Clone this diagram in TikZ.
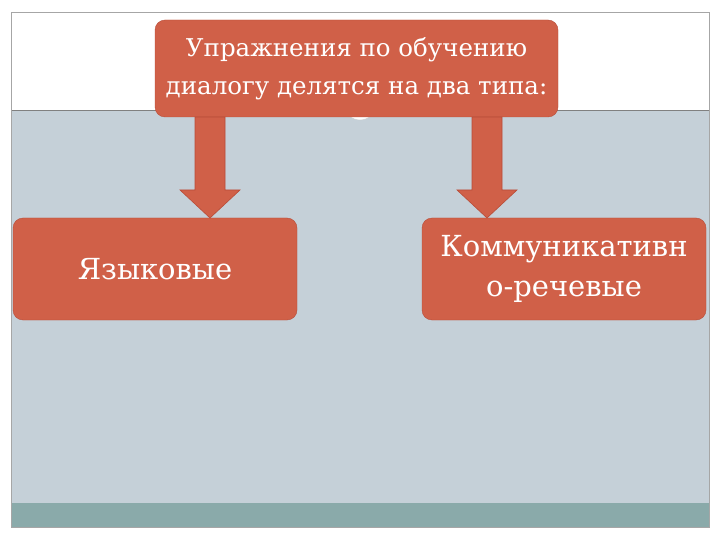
\documentclass[tikz,border=0pt]{standalone}
\usepackage{fontspec}
\setmainfont{DejaVu Serif}
\definecolor{boxc}{HTML}{D06048}
\definecolor{boxd}{HTML}{B84C38}
\definecolor{bgc}{HTML}{C5D0D8}
\definecolor{teal}{HTML}{8AAAAA}
\begin{document}
\begin{tikzpicture}[x=1pt,y=-1pt,
  box/.style={draw=boxd,fill=boxc,rounded corners=10pt,text=white,align=center,inner sep=0pt},
  arr/.style={draw=boxd,fill=boxc,line width=0.6pt}]
\useasboundingbox (0,0) rectangle (720,540);
\fill[white] (0,0) rectangle (720,540);
\fill[bgc] (11,110) rectangle (709,503);
\fill[teal] (11,503) rectangle (709,527);
\draw[gray,line width=0.6pt] (11,110) -- (709,110);
\draw[gray!70,line width=0.6pt] (11,12) rectangle (709,527);
\node[circle,fill=white,draw=gray!40,minimum size=32pt,inner sep=0pt] (c) at (360,104) {};
\node[box,minimum width=403pt,minimum height=97pt,font=\fontsize{24.5}{38}\selectfont] (t) at (356.5,68.5) {Упражнения по обучению\\диалогу делятся на два типа:};
\node[box,minimum width=284pt,minimum height=102pt,font=\fontsize{29}{40}\selectfont] (l) at (155,269) {Языковые};
\node[box,minimum width=284pt,minimum height=102pt,font=\fontsize{29}{40}\selectfont] (r) at (564,269) {Коммуникативн\\о-речевые};
\draw[arr] (195,117) -- (225,117) -- (225,190) -- (240,190) -- (210,218) -- (180,190) -- (195,190) -- cycle;
\draw[arr] (472,117) -- (502,117) -- (502,190) -- (517,190) -- (487,218) -- (457,190) -- (472,190) -- cycle;
\end{tikzpicture}
\end{document}
